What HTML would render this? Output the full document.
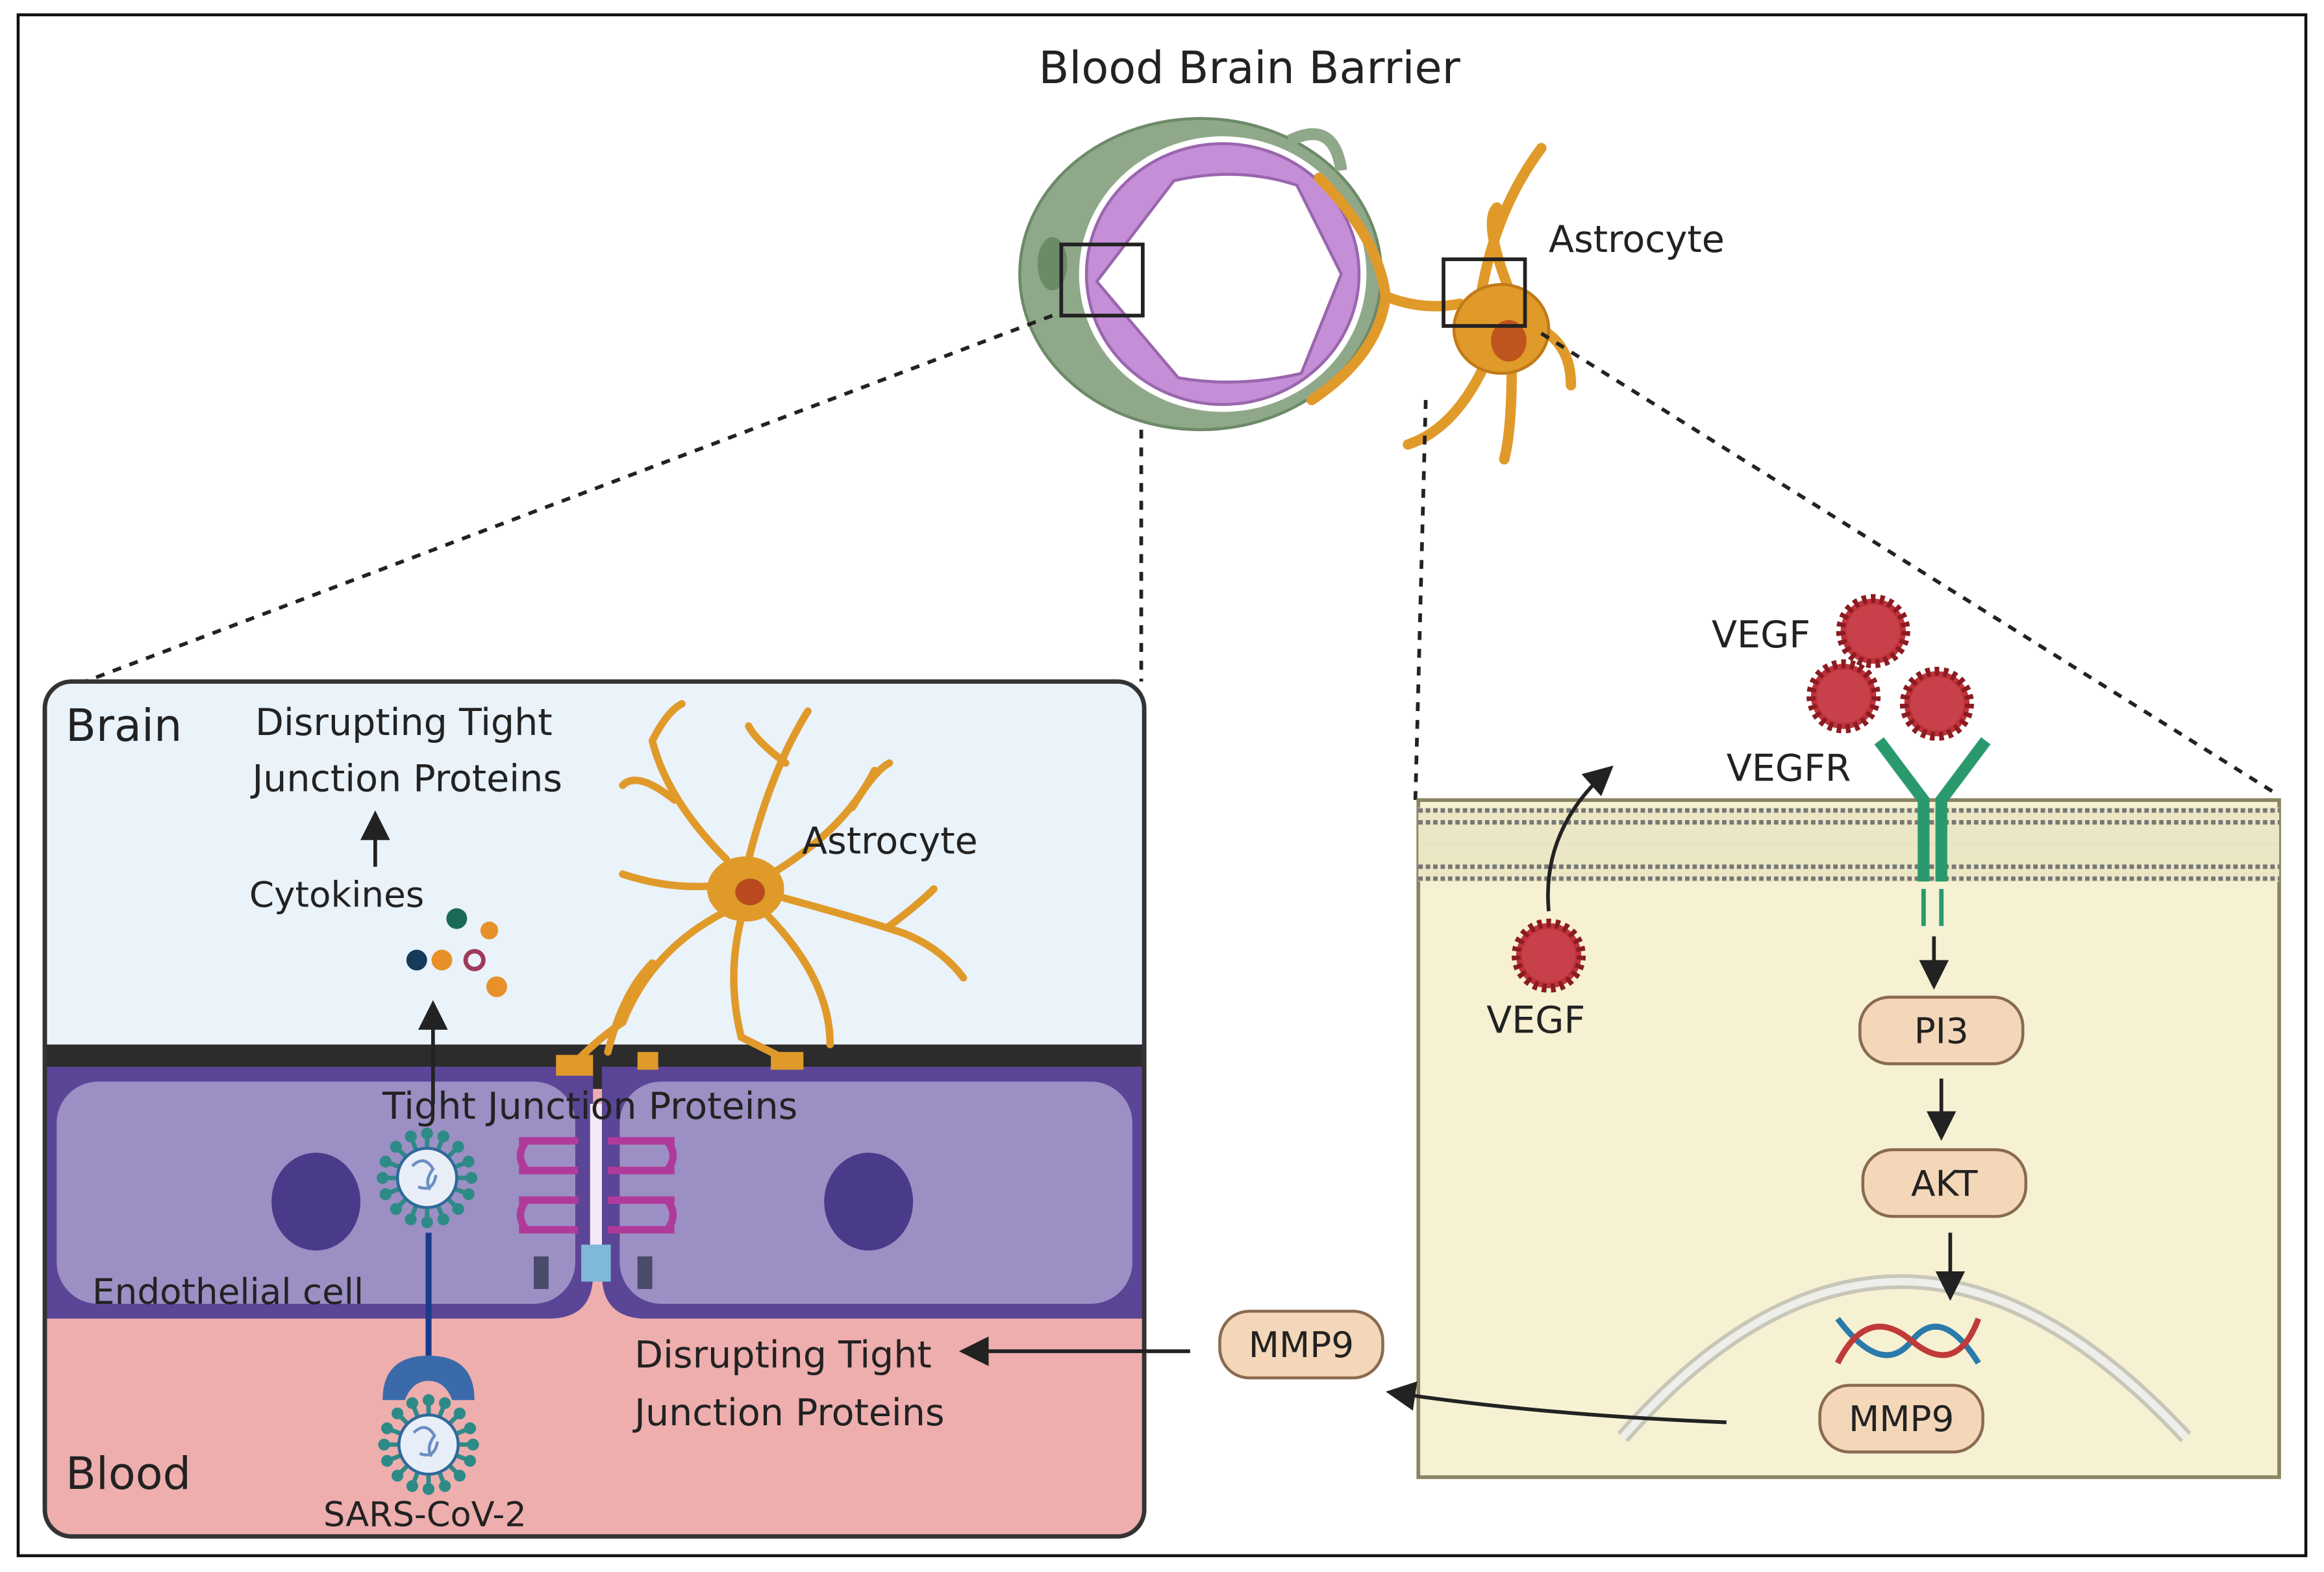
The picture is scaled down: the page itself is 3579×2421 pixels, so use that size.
<!DOCTYPE html>
<html><head><meta charset="utf-8"><style>
html,body{margin:0;padding:0;background:#fff}
svg{display:block}
text{font-family:"DejaVu Sans","Liberation Sans",sans-serif;fill:#222}
</style></head><body>
<svg width="3579" height="2421" viewBox="0 0 1568 1061" xmlns="http://www.w3.org/2000/svg">
<defs>
<g id="virus">
  <g stroke="#2e8a86" stroke-width="3">
    <line x1="0" y1="-30" x2="0" y2="30"/><line x1="-30" y1="0" x2="30" y2="0"/>
    <line x1="-21" y1="-21" x2="21" y2="21"/><line x1="-21" y1="21" x2="21" y2="-21"/>
    <line x1="-11" y1="-28" x2="11" y2="28"/><line x1="-28" y1="-11" x2="28" y2="11"/>
    <line x1="-11" y1="28" x2="11" y2="-28"/><line x1="-28" y1="11" x2="28" y2="-11"/>
  </g>
  <g fill="#2e8a86">
    <circle cx="0" cy="-30" r="4"/><circle cx="0" cy="30" r="4"/><circle cx="-30" cy="0" r="4"/><circle cx="30" cy="0" r="4"/>
    <circle cx="-21" cy="-21" r="4"/><circle cx="21" cy="21" r="4"/><circle cx="-21" cy="21" r="4"/><circle cx="21" cy="-21" r="4"/>
    <circle cx="-11" cy="-28" r="4"/><circle cx="11" cy="28" r="4"/><circle cx="-28" cy="-11" r="4"/><circle cx="28" cy="11" r="4"/>
    <circle cx="-11" cy="28" r="4"/><circle cx="11" cy="-28" r="4"/><circle cx="-28" cy="11" r="4"/><circle cx="28" cy="-11" r="4"/>
  </g>
  <circle r="20" fill="#e8eef8" stroke="#2e6a9a" stroke-width="2"/>
  <path d="M-10,-8 q8,-8 14,2 q-6,8 -2,14 M-6,6 q10,4 12,-8" stroke="#6a8fc0" fill="none" stroke-width="2"/>
</g>
<g id="vegf">
  <circle r="22" fill="#c0323a" stroke="#8a1c22" stroke-width="6" stroke-dasharray="3 3"/>
  <circle r="18" fill="#c8404a"/>
</g>
<marker id="ah" markerWidth="8" markerHeight="8" refX="6" refY="4" orient="auto" markerUnits="strokeWidth"><path d="M0,0 L8,4 L0,8 z" fill="#222"/></marker>
</defs>

<rect x="12" y="10" width="1544" height="1040" fill="#fff" stroke="#111" stroke-width="2"/>

<text x="843" y="56" font-size="30" text-anchor="middle">Blood Brain Barrier</text>

<!-- vessel -->
<ellipse cx="810" cy="185" rx="122" ry="105" fill="#8fa88a" stroke="#6d8a68" stroke-width="2"/>
<ellipse cx="710" cy="178" rx="10" ry="18" fill="#6b8a68"/>
<ellipse cx="825" cy="185" rx="97" ry="93" fill="#fff"/>
<ellipse cx="825" cy="185" rx="92" ry="88" fill="#c48fd6" stroke="#9a66ad" stroke-width="2"/>
<path d="M740,190 L792,122 Q835,112 875,125 L905,185 L878,252 Q835,262 795,255 Z" fill="#fff" stroke="#9a66ad" stroke-width="2"/>
<path d="M870,95 Q900,80 905,115" stroke="#8fa88a" stroke-width="8" fill="none"/>
<rect x="716" y="165" width="55" height="48" fill="none" stroke="#222" stroke-width="2.5"/>

<!-- astrocyte top -->
<g stroke="#e09a2a" stroke-width="7" fill="none" stroke-linecap="round">
  <path d="M890,120 Q930,160 935,200 Q960,210 985,205"/>
  <path d="M935,200 Q930,240 885,270"/>
  <path d="M1000,195 Q1010,140 1040,100"/>
  <path d="M1000,250 Q980,290 950,300"/>
  <path d="M1020,250 Q1020,290 1015,310"/>
  <path d="M1035,220 Q1060,230 1060,260"/>
  <path d="M1020,200 Q1000,150 1010,140 "/>
</g>
<ellipse cx="1013" cy="222" rx="32" ry="30" fill="#e09a2a" stroke="#c07a18" stroke-width="2"/>
<ellipse cx="1018" cy="230" rx="12" ry="14" fill="#c0541e"/>
<rect x="974" y="175" width="55" height="45" fill="none" stroke="#222" stroke-width="2.5"/>
<text x="1045" y="170" font-size="25">Astrocyte</text>

<!-- dashed connectors -->
<g stroke="#222" stroke-width="2.5" stroke-dasharray="6 6" fill="none">
  <line x1="710" y1="213" x2="36" y2="468"/>
  <line x1="770" y1="290" x2="770" y2="460"/>
  <line x1="962" y1="270" x2="955" y2="540"/>
  <line x1="1040" y1="225" x2="1538" y2="537"/>
</g>

<!-- LEFT PANEL -->
<clipPath id="lp"><rect x="30" y="460" width="742" height="577" rx="18"/></clipPath>
<g clip-path="url(#lp)">
  <rect x="30" y="460" width="742" height="577" fill="#eaf2fa"/>
  <rect x="30" y="705" width="742" height="332" fill="#eeaeae"/>
  <rect x="30" y="705" width="742" height="30" fill="#2c2c2c"/>
  <path d="M30,720 H400 V860 Q400,890 370,890 H30 Z" fill="#5a4596"/>
  <path d="M406,720 H772 V890 H436 Q406,890 406,860 Z" fill="#5a4596"/>
  <rect x="38" y="730" width="350" height="150" rx="28" fill="#9b8fc4"/>
  <rect x="418" y="730" width="346" height="150" rx="28" fill="#9b8fc4"/>
</g>
<rect x="30" y="460" width="742" height="577" rx="18" fill="none" stroke="#333" stroke-width="3"/>
<ellipse cx="213" cy="811" rx="30" ry="33" fill="#4a3a8a"/>
<ellipse cx="586" cy="811" rx="30" ry="33" fill="#4a3a8a"/>
<!-- tight junction proteins -->
<g stroke="#b03a9a" stroke-width="5" fill="none">
  <path d="M350,770 h40 M350,790 h40 M350,810 h40 M350,830 h40"/>
  <path d="M410,770 h45 M410,790 h45 M410,810 h45 M410,830 h45"/>
  <path d="M355,770 q-8,10 0,20 M355,810 q-8,10 0,20 M450,770 q8,10 0,20 M450,810 q8,10 0,20"/>
</g>
<rect x="398" y="745" width="8" height="100" fill="#f4e8f4"/>
<rect x="392" y="840" width="20" height="25" fill="#7fb8d8"/>
<rect x="360" y="848" width="10" height="22" fill="#4a4a6a"/><rect x="430" y="848" width="10" height="22" fill="#4a4a6a"/>
<text x="398" y="755" font-size="25" text-anchor="middle">Tight Junction Proteins</text>
<use href="#virus" x="288" y="795"/>
<line x1="289" y1="832" x2="289" y2="915" stroke="#1a3a8a" stroke-width="4"/>
<path d="M258,945 Q258,915 289,915 Q320,915 320,945 L305,945 Q300,932 289,932 Q278,932 273,945 Z" fill="#3a6aaa"/>
<use href="#virus" x="289" y="975"/>
<text x="62" y="880" font-size="24">Endothelial cell</text>
<text x="44" y="1005" font-size="30">Blood</text>
<text x="218" y="1030" font-size="23">SARS-CoV-2</text>
<text x="44" y="500" font-size="30">Brain</text>
<text x="172" y="496" font-size="25">Disrupting Tight</text>
<text x="170" y="534" font-size="25">Junction Proteins</text>
<line x1="253" y1="585" x2="253" y2="552" stroke="#222" stroke-width="2.5" marker-end="url(#ah)"/>
<text x="168" y="612" font-size="24">Cytokines</text>
<circle cx="308" cy="620" r="7" fill="#1a6a5a"/>
<circle cx="330" cy="628" r="6" fill="#e8902a"/>
<circle cx="281" cy="648" r="7" fill="#163a5a"/>
<circle cx="298" cy="648" r="7" fill="#e8902a"/>
<circle cx="320" cy="648" r="6" fill="none" stroke="#a03a5a" stroke-width="3"/>
<circle cx="335" cy="666" r="7" fill="#e8902a"/>
<line x1="292" y1="745" x2="292" y2="680" stroke="#222" stroke-width="2.5" marker-end="url(#ah)"/>
<!-- left astrocyte -->
<g stroke="#e09a2a" stroke-width="5" fill="none" stroke-linecap="round">
  <path d="M490,580 Q450,540 440,500 M455,540 Q430,520 420,530 M440,500 Q450,480 460,475"/>
  <path d="M505,580 Q520,520 545,480 M530,515 Q510,500 505,490"/>
  <path d="M520,590 Q570,560 590,520 M575,545 Q590,520 600,515"/>
  <path d="M525,605 Q580,620 610,630 Q635,640 650,660 M600,625 Q620,610 630,600"/>
  <path d="M515,615 Q560,660 560,705"/>
  <path d="M500,620 Q490,660 500,700 Q520,710 530,715"/>
  <path d="M490,615 Q440,640 420,690 Q405,700 390,715 M440,650 Q420,670 410,710"/>
  <path d="M480,598 Q450,600 420,590"/>
</g>
<ellipse cx="503" cy="600" rx="26" ry="22" fill="#e09a2a"/>
<ellipse cx="506" cy="602" rx="10" ry="9" fill="#b84a1e"/>
<g fill="#e09a2a"><path d="M375,712 h25 v14 h-25z"/><path d="M520,710 h22 v12 h-22z"/><path d="M430,710 h14 v12 h-14z"/></g>
<text x="541" y="576" font-size="25">Astrocyte</text>
<text x="428" y="923" font-size="25">Disrupting Tight</text>
<text x="428" y="962" font-size="25">Junction Proteins</text>

<!-- RIGHT PANEL -->
<rect x="957" y="540" width="581" height="457" fill="#f6f1d3" stroke="#8a8560" stroke-width="2.5"/>
<rect x="957" y="545" width="581" height="50" fill="#ebe7c4"/>
<g stroke="#777" stroke-width="3" stroke-dasharray="3 2">
  <line x1="957" y1="547" x2="1538" y2="547"/><line x1="957" y1="555" x2="1538" y2="555"/>
  <line x1="957" y1="585" x2="1538" y2="585"/><line x1="957" y1="593" x2="1538" y2="593"/>
</g>
<g stroke="#e6e2c0" stroke-width="1"><line x1="957" y1="570" x2="1538" y2="570"/></g>
<!-- nucleus arc -->
<path d="M1095,970 Q1280,760 1475,970" stroke="#c8c6b8" stroke-width="10" fill="none"/>
<path d="M1095,970 Q1280,760 1475,970" stroke="#eeeeea" stroke-width="5" fill="none"/>
<!-- receptor -->
<g stroke="#2a9a6e" stroke-width="8" fill="none">
  <path d="M1298,595 V540 L1268,500 M1310,595 V540 L1340,500"/>
  <line x1="1298" y1="600" x2="1298" y2="625" stroke-width="3"/><line x1="1310" y1="600" x2="1310" y2="625" stroke-width="3"/>
</g>
<use href="#vegf" x="1264" y="426"/>
<use href="#vegf" x="1244" y="470"/>
<use href="#vegf" x="1307" y="475"/>
<text x="1155" y="437" font-size="25">VEGF</text>
<text x="1165" y="527" font-size="25">VEGFR</text>
<use href="#vegf" x="1045" y="645"/>
<text x="1003" y="697" font-size="25">VEGF</text>
<path d="M1045,615 Q1040,560 1085,520" stroke="#222" stroke-width="2.5" fill="none" marker-end="url(#ah)"/>
<line x1="1305" y1="632" x2="1305" y2="663" stroke="#222" stroke-width="2.5" marker-end="url(#ah)"/>
<rect x="1255" y="673" width="110" height="45" rx="20" fill="#f4d7b8" stroke="#8a6a50" stroke-width="2"/>
<text x="1310" y="704" font-size="24" text-anchor="middle">PI3</text>
<line x1="1310" y1="728" x2="1310" y2="765" stroke="#222" stroke-width="2.5" marker-end="url(#ah)"/>
<rect x="1257" y="776" width="110" height="45" rx="20" fill="#f4d7b8" stroke="#8a6a50" stroke-width="2"/>
<text x="1312" y="807" font-size="24" text-anchor="middle">AKT</text>
<line x1="1316" y1="832" x2="1316" y2="873" stroke="#222" stroke-width="2.5" marker-end="url(#ah)"/>
<!-- DNA -->
<path d="M1240,890 Q1270,930 1290,905 Q1310,880 1335,920" stroke="#2a7aaa" stroke-width="4" fill="none"/>
<path d="M1240,920 Q1260,880 1290,905 Q1320,930 1335,890" stroke="#c03a3a" stroke-width="4" fill="none"/>
<rect x="1228" y="935" width="110" height="45" rx="20" fill="#f4d7b8" stroke="#8a6a50" stroke-width="2"/>
<text x="1283" y="966" font-size="24" text-anchor="middle">MMP9</text>
<path d="M1165,960 Q1040,955 940,940" stroke="#222" stroke-width="2.5" fill="none" marker-end="url(#ah)"/>
<rect x="823" y="885" width="110" height="45" rx="20" fill="#f4d7b8" stroke="#8a6a50" stroke-width="2"/>
<text x="878" y="916" font-size="24" text-anchor="middle">MMP9</text>
<line x1="803" y1="912" x2="652" y2="912" stroke="#222" stroke-width="2.5" marker-end="url(#ah)"/>
</svg>
</body></html>
